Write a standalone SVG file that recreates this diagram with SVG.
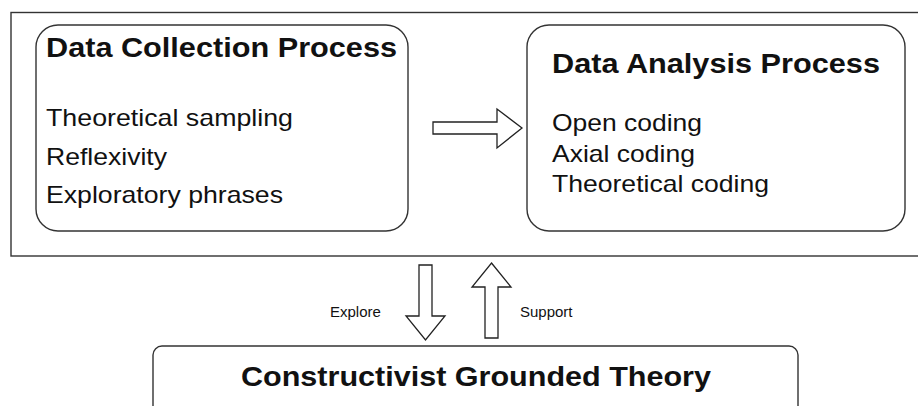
<svg xmlns="http://www.w3.org/2000/svg" width="918" height="406" viewBox="0 0 918 406">
  <style>
    .box { fill: #ffffff; stroke: #333333; stroke-width: 1.4; }
    .frame { fill: #ffffff; stroke: #333333; stroke-width: 1.4; }
    .arrow { fill: #ffffff; stroke: #222222; stroke-width: 1.3; stroke-linejoin: miter; }
    .title { font-family: "Liberation Sans", Arial, Helvetica, sans-serif; font-weight: bold; font-size: 28px; fill: #111111; }
    .item { font-family: "Liberation Sans", Arial, Helvetica, sans-serif; font-size: 24px; fill: #111111; }
    .label { font-family: "Liberation Sans", Arial, Helvetica, sans-serif; font-size: 15px; fill: #111111; }
  </style>
  <rect width="918" height="406" fill="#ffffff"/>
  <g id="frame">
    <rect class="frame" x="11" y="12.5" width="920" height="243.5"/>
  </g>
  <g id="data-collection">
    <rect class="box" x="36" y="25" width="372" height="206" rx="22" ry="22"/>
    <text class="title" x="46" y="57" textLength="351" lengthAdjust="spacingAndGlyphs">Data Collection Process</text>
    <text class="item" x="46" y="126" textLength="247" lengthAdjust="spacingAndGlyphs">Theoretical sampling</text>
    <text class="item" x="46" y="165" textLength="121" lengthAdjust="spacingAndGlyphs">Reflexivity</text>
    <text class="item" x="46" y="203" textLength="237" lengthAdjust="spacingAndGlyphs">Exploratory phrases</text>
  </g>
  <g id="data-analysis">
    <rect class="box" x="527" y="25" width="378" height="206" rx="22" ry="22"/>
    <text class="title" x="552" y="73" textLength="328" lengthAdjust="spacingAndGlyphs">Data Analysis Process</text>
    <text class="item" x="552" y="131" textLength="150" lengthAdjust="spacingAndGlyphs">Open coding</text>
    <text class="item" x="552" y="162" textLength="143" lengthAdjust="spacingAndGlyphs">Axial coding</text>
    <text class="item" x="552" y="192" textLength="217" lengthAdjust="spacingAndGlyphs">Theoretical coding</text>
  </g>
  <g id="grounded-theory">
    <rect class="box" x="153" y="346" width="645" height="110" rx="9" ry="9"/>
    <text class="title" x="241" y="386" textLength="470" lengthAdjust="spacingAndGlyphs">Constructivist Grounded Theory</text>
  </g>
  <g id="connectors">
    <polygon class="arrow" points="433,122 497,122 497,109 522,128 497,148 497,134 433,134"/>
    <polygon class="arrow" points="419,265 432,265 432,316 445,316 425.5,340 406,316 419,316"/>
    <polygon class="arrow" points="491.5,263 511,287 498,287 498,338 485,338 485,287 472,287"/>
    <text class="label" x="330" y="317">Explore</text>
    <text class="label" x="520" y="317">Support</text>
  </g>
</svg>
